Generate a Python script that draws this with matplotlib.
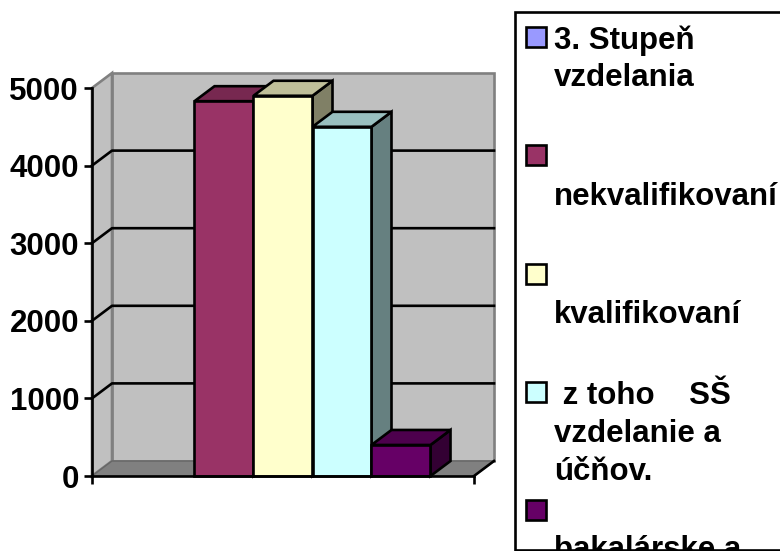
import matplotlib
matplotlib.use("Agg")
import matplotlib.pyplot as plt
from matplotlib.patches import Polygon, Rectangle

W, H = 780, 551

# data (first series has a legend entry but no bar)
series = ["3. Stupeň\nvzdelania", "\nnekvalifikovaní", "\nkvalifikovaní",
          " z toho    SŠ\nvzdelanie a\núčňov.", "\nbakalárske a"]
values = [None, 4830, 4900, 4500, 400]
yticks = [0, 1000, 2000, 3000, 4000, 5000]

face = ["#9999FF", "#993366", "#FFFFCC", "#CCFFFF", "#660066"]
top = ["#7373BF", "#772850", "#BFBF99", "#99BFBF", "#4D004D"]
side = ["#4D4D80", "#4D1A33", "#808066", "#668080", "#330033"]

# pixel layout of the plot
LEFT, RIGHT, BOTTOM, TOP = 92, 474, 476, 88
BAR_PX = 59
XMAX = (RIGHT - LEFT) / BAR_PX
DX = 20 / BAR_PX
DY = 15 / ((BOTTOM - TOP) / 5000)
LW = 1.9

plt.rcParams["font.family"] = ["Liberation Sans", "DejaVu Sans"]
plt.rcParams["font.weight"] = "bold"

fig = plt.figure(figsize=(W / 100, H / 100), dpi=100)
ax = fig.add_axes([LEFT / W, 1 - BOTTOM / H, (RIGHT - LEFT) / W, (BOTTOM - TOP) / H])
ax.set_xlim(0, XMAX)
ax.set_ylim(0, 5000)
ax.patch.set_visible(False)

# walls and floor
ax.add_patch(Polygon([(DX, DY), (XMAX + DX, DY), (XMAX + DX, 5000 + DY), (DX, 5000 + DY)],
                     fc="#C0C0C0", ec="#808080", lw=LW, clip_on=False, zorder=1))
ax.add_patch(Polygon([(0, 0), (DX, DY), (DX, 5000 + DY), (0, 5000)],
                     fc="#C0C0C0", ec="#808080", lw=LW, clip_on=False, zorder=1))
ax.add_patch(Polygon([(0, 0), (XMAX, 0), (XMAX + DX, DY), (DX, DY)],
                     fc="#808080", ec="#666666", lw=1, clip_on=False, zorder=1))
ax.plot([XMAX, XMAX + DX], [0, DY], color="black", lw=LW, clip_on=False, zorder=2)

for t in yticks[1:-1]:
    ax.plot([0, DX, XMAX + DX], [t, t + DY, t + DY], color="black", lw=LW,
            clip_on=False, zorder=2)

# bars, left to right so later ones overlap the earlier depth faces
start = XMAX / 2 - len(series) / 2
for i, v in enumerate(values):
    if v is None:
        continue
    x0 = start + i
    x1 = x0 + 1
    z = 3 + i
    ax.add_patch(Polygon([(x1, 0), (x1 + DX, DY), (x1 + DX, v + DY), (x1, v)],
                         fc=side[i], ec="black", lw=LW, joinstyle="miter", clip_on=False, zorder=z))
    ax.add_patch(Polygon([(x0, v), (x1, v), (x1 + DX, v + DY), (x0 + DX, v + DY)],
                         fc=top[i], ec="black", lw=LW, joinstyle="miter", clip_on=False, zorder=z))
    ax.bar(x0, v, width=1, align="edge", color=face[i], edgecolor="black", lw=LW,
           clip_on=False, zorder=z)

for name in ["top", "right"]:
    ax.spines[name].set_visible(False)
for name in ["left", "bottom"]:
    ax.spines[name].set_linewidth(LW)
    ax.spines[name].set_zorder(10)
ax.set_yticks(yticks)
ax.set_xticks([0, XMAX])
ax.set_xticklabels([])
ax.tick_params(axis="both", length=5.8, width=LW, direction="out")
ax.tick_params(axis="y", labelsize=22.5, pad=3.5)


# legend, cut off by its own frame at the bottom as in the source
def fx(px):
    return px / W


def fy(py):
    return 1 - py / H


frame = Rectangle((fx(515), fy(550)), fx(300), fy(12) - fy(550), transform=fig.transFigure,
                  fc="white", ec="black", lw=LW)
fig.add_artist(frame)

swatch_y = [37, 155, 274, 392, 510]
text_y = [37, 156, 274, 393, 509]
LINE = 37.5
for name, color, sy, ty in zip(series, face, swatch_y, text_y):
    fig.add_artist(Rectangle((fx(525.5), fy(sy + 10)), fx(20), fy(sy - 10) - fy(sy + 10),
                             transform=fig.transFigure, fc=color, ec="black", lw=LW))
    for k, line in enumerate(name.split("\n")):
        if not line:
            continue
        txt = fig.text(fx(554), fy(ty + k * LINE), line, fontsize=22.5, fontweight="bold",
                       ha="left", va="center_baseline", color="black")
        txt.set_clip_path(frame)

fig.savefig("out.png", dpi=100)
